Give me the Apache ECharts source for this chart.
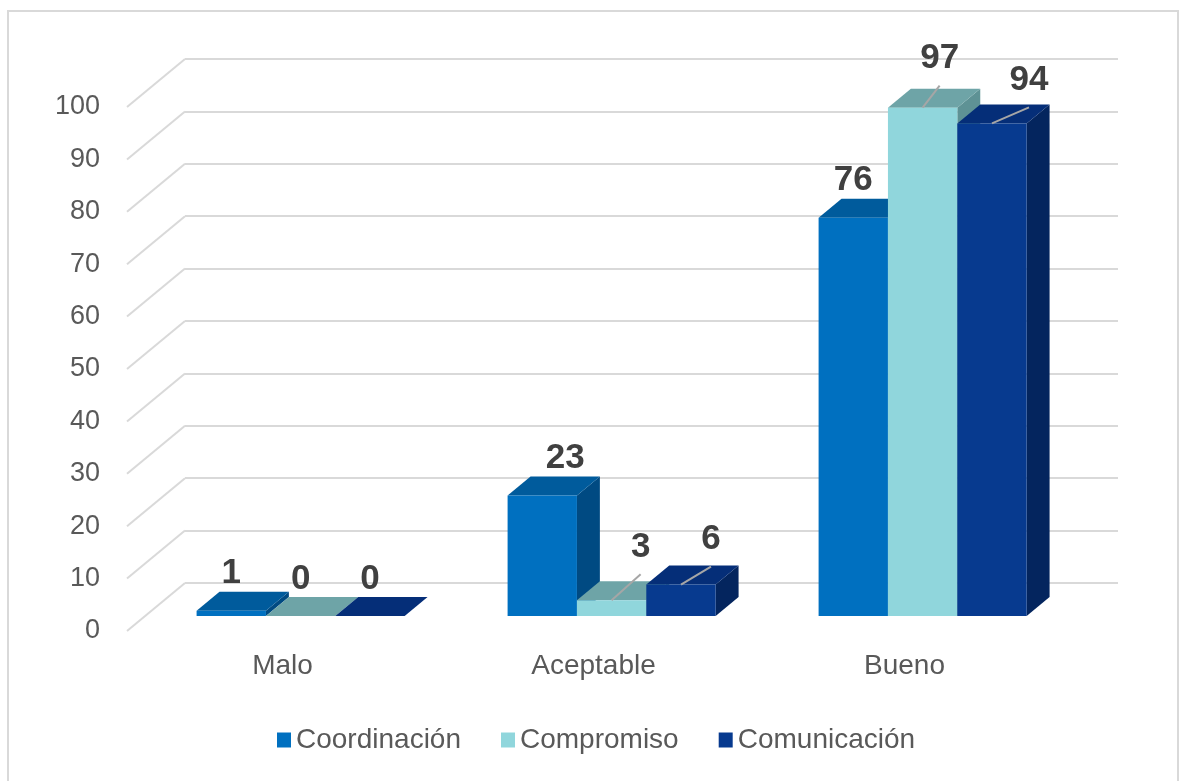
<!DOCTYPE html>
<html>
<head>
<meta charset="utf-8">
<script src="https://cdn.jsdelivr.net/npm/echarts@6/dist/echarts.min.js"></script>
<style>
  html, body { margin: 0; padding: 0; background: #ffffff; }
  #chart { width: 1180px; height: 781px; }
</style>
</head>
<body>
<div id="chart"></div>
<script>
// Categories and values per series
const categories = ['Malo', 'Aceptable', 'Bueno'];
const seriesNames = ['Coordinación', 'Compromiso', 'Comunicación'];
const coordinacion = [1, 23, 76];
const compromiso = [0, 3, 97];
const comunicacion = [0, 6, 94];
const yMin = 0;
const yMax = 100;
const yStep = 10;

const seriesValues = [coordinacion, compromiso, comunicacion];

// Face colours of the 3D boxes: front, top, side
const palette = [
  { front: '#0070C0', top: '#005B9C', side: '#004A82' },
  { front: '#90D6DC', top: '#6EA4A7', side: '#5E9295' },
  { front: '#073A8F', top: '#052E78', side: '#04255E' }
];

// Layout of the 3D box: front plane grid, depth vector to the back wall,
// and the slice of the depth occupied by the bars
const FRONT = { left: 127, right: 120, top: 107, bottom: 150 };
const DEPTH = [58, -48];
const T_FRONT = 0.3125;
const T_BACK = 0.708;
const GROUP_RATIO = 0.669;

// Hand-placed data labels (offsets in px from the default spot)
const labelNudge = {
  '0-1': { dx: 23, dy: 0, leader: false },
  '1-1': { dx: 29, dy: -16, leader: true },
  '2-1': { dx: 30, dy: -8, leader: true },
  '1-2': { dx: 17, dy: -12, leader: true },
  '2-2': { dx: 37, dy: -6, leader: true }
};

const FONT = '"Liberation Sans", Arial, sans-serif';

function boxRenderer(sIdx) {
  const col = palette[sIdx];
  return function (params, api) {
    const cat = api.value(0);
    const val = api.value(1);
    const base = api.coord([cat, 0]);
    const topPt = api.coord([cat, val]);
    const band = api.size([1, 0])[0];
    const groupW = band * GROUP_RATIO;
    const barW = groupW / 3;
    const x0 = base[0] - groupW / 2 + sIdx * barW + DEPTH[0] * T_FRONT;
    const yB = base[1] + DEPTH[1] * T_FRONT;
    const yT = topPt[1] + DEPTH[1] * T_FRONT;
    const dx = DEPTH[0] * (T_BACK - T_FRONT);
    const dy = DEPTH[1] * (T_BACK - T_FRONT);
    const x1 = x0 + barW;

    const children = [
      {
        type: 'polygon',
        shape: { points: [[x1, yB], [x1 + dx, yB + dy], [x1 + dx, yT + dy], [x1, yT]] },
        style: { fill: col.side }
      },
      {
        type: 'polygon',
        shape: { points: [[x0, yT], [x0 + dx, yT + dy], [x1 + dx, yT + dy], [x1, yT]] },
        style: { fill: col.top }
      },
      {
        type: 'rect',
        shape: { x: x0, y: yT, width: barW, height: Math.max(yB - yT, 0) },
        style: { fill: col.front }
      }
    ];

    // value label above the box
    const nudge = labelNudge[sIdx + '-' + cat] || { dx: 0, dy: 0, leader: false };
    const cx = x0 + barW / 2;
    const glyphBottom = yT + dy - 5 + nudge.dy;
    const lx = cx + nudge.dx;
    if (nudge.leader) {
      children.push({
        type: 'line',
        z2: 50,
        shape: { x1: lx, y1: glyphBottom + 14, x2: cx, y2: yT },
        style: { stroke: '#A6A6A6', lineWidth: 2 }
      });
    }
    children.push({
      type: 'text',
      z2: 100,
      style: {
        text: String(val),
        x: lx,
        y: glyphBottom - 13,
        align: 'center',
        verticalAlign: 'middle',
        fill: '#404040',
        font: 'bold 35px ' + FONT
      }
    });

    return { type: 'group', children: children };
  };
}

const chart = echarts.init(document.getElementById('chart'), null, { renderer: 'canvas' });

const option = {
  animation: false,
  backgroundColor: '#ffffff',
  textStyle: { fontFamily: FONT },
  graphic: [
    {
      type: 'rect',
      shape: { x: 8, y: 11, width: 1170, height: 780 },
      style: { fill: 'none', stroke: '#D9D9D9', lineWidth: 2 },
      silent: true,
      z: -10
    }
  ],
  legend: {
    data: seriesNames,
    left: 272,
    top: 721,
    icon: 'rect',
    itemWidth: 14,
    itemHeight: 15,
    itemGap: 40,
    textStyle: { fontSize: 28, color: '#595959', fontFamily: FONT }
  },
  grid: [
    // front plane
    { left: FRONT.left, right: FRONT.right, top: FRONT.top, bottom: FRONT.bottom },
    // back wall
    {
      left: FRONT.left + DEPTH[0],
      right: FRONT.right - DEPTH[0],
      top: FRONT.top + DEPTH[1],
      bottom: FRONT.bottom - DEPTH[1]
    }
  ],
  xAxis: [
    {
      type: 'category',
      gridIndex: 0,
      data: categories,
      axisLine: { show: false },
      axisTick: { show: false },
      splitLine: { show: false },
      axisLabel: { fontSize: 28, color: '#595959', margin: 21, fontFamily: FONT }
    },
    {
      type: 'category',
      gridIndex: 1,
      data: categories,
      show: false
    }
  ],
  yAxis: [
    {
      type: 'value',
      gridIndex: 0,
      min: yMin,
      max: yMax,
      interval: yStep,
      axisLine: { show: false },
      axisTick: { show: false },
      splitLine: { show: false },
      axisLabel: { fontSize: 27, color: '#595959', margin: 27, fontFamily: FONT }
    },
    {
      type: 'value',
      gridIndex: 1,
      min: yMin,
      max: yMax,
      interval: yStep,
      axisLine: { show: false },
      axisTick: { show: false },
      axisLabel: { show: false },
      splitLine: { show: true, lineStyle: { color: '#D9D9D9', width: 2 } }
    }
  ],
  series: [
    // receding floor/wall lines from the front plane to the back wall
    {
      type: 'custom',
      name: 'depth-lines',
      xAxisIndex: 0,
      yAxisIndex: 0,
      silent: true,
      z: 1,
      data: (function () {
        const out = [];
        for (let v = yMin; v <= yMax; v += yStep) out.push([0, v]);
        return out;
      })(),
      renderItem: function (params, api) {
        const p = api.coord([0, api.value(1)]);
        const x = params.coordSys.x;
        return {
          type: 'line',
          shape: { x1: x, y1: p[1], x2: x + DEPTH[0], y2: p[1] + DEPTH[1] },
          style: { stroke: '#D9D9D9', lineWidth: 2 }
        };
      }
    }
  ].concat(seriesNames.map(function (name, i) {
    return {
      type: 'custom',
      name: name,
      xAxisIndex: 0,
      yAxisIndex: 0,
      z: 3,
      itemStyle: { color: palette[i].front },
      data: seriesValues[i].map(function (v, c) { return [c, v]; }),
      renderItem: boxRenderer(i)
    };
  }))
};

chart.setOption(option);
</script>
</body>
</html>
